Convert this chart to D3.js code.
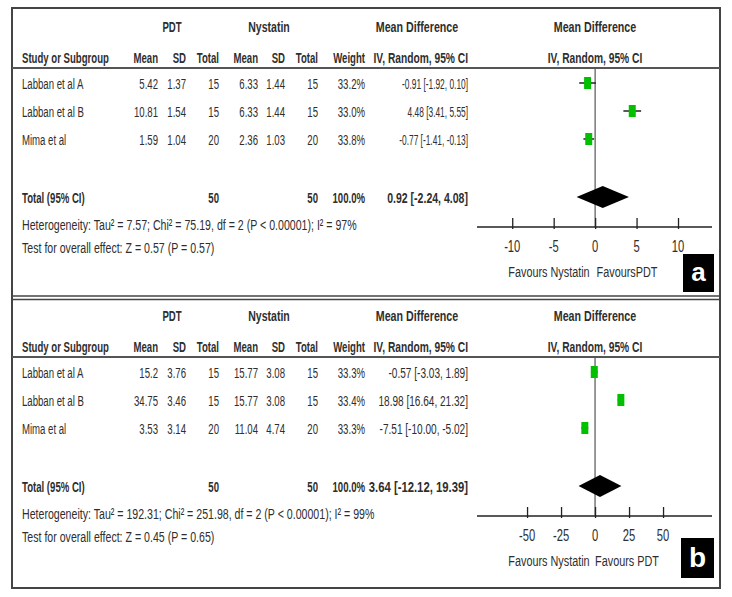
<!DOCTYPE html>
<html><head><meta charset="utf-8">
<script src="https://cdn.jsdelivr.net/npm/d3@7"></script>
<style>body{margin:0;background:#fff}svg{display:block}</style>
</head><body>
<svg id="c" width="732" height="597"></svg>
<script>
const studies = ["Labban et al A", "Labban et al B", "Mima et al"];
// panel a
const aPdtMean = [5.42, 10.81, 1.59];
const aPdtSD = [1.37, 1.54, 1.04];
const aPdtN = [15, 15, 20];
const aNysMean = [6.33, 6.33, 2.36];
const aNysSD = [1.44, 1.44, 1.03];
const aNysN = [15, 15, 20];
const aWeight = [33.2, 33.0, 33.8];
const aMD = [-0.91, 4.48, -0.77];
const aLo = [-1.92, 3.41, -1.41];
const aHi = [0.10, 5.55, -0.13];
const aTotal = [0.92, -2.24, 4.08];
const aTicks = [-10, -5, 0, 5, 10];
const aHet = "Heterogeneity: Tau² = 7.57; Chi² = 75.19, df = 2 (P < 0.00001); I² = 97%";
const aTest = "Test for overall effect: Z = 0.57 (P = 0.57)";
const aFav = ["Favours Nystatin", "FavoursPDT"];
// panel b
const bPdtMean = [15.2, 34.75, 3.53];
const bPdtSD = [3.76, 3.46, 3.14];
const bPdtN = [15, 15, 20];
const bNysMean = [15.77, 15.77, 11.04];
const bNysSD = [3.08, 3.08, 4.74];
const bNysN = [15, 15, 20];
const bWeight = [33.3, 33.4, 33.3];
const bMD = [-0.57, 18.98, -7.51];
const bLo = [-3.03, 16.64, -10.00];
const bHi = [1.89, 21.32, -5.02];
const bTotal = [3.64, -12.12, 19.39];
const bTicks = [-50, -25, 0, 25, 50];
const bHet = "Heterogeneity: Tau² = 192.31; Chi² = 251.98, df = 2 (P < 0.00001); I² = 99%";
const bTest = "Test for overall effect: Z = 0.45 (P = 0.65)";
const bFav = ["Favours Nystatin", "Favours PDT"];

const panels = [
  {label:"a", off:0, pm:aPdtMean, ps:aPdtSD, pn:aPdtN, nm:aNysMean, ns:aNysSD, nn:aNysN, w:aWeight,
   md:aMD, lo:aLo, hi:aHi, tot:aTotal, ticks:aTicks, het:aHet, test:aTest, fav:aFav, dom:[-14.25, 14.1],
   mdSx:0.54, totSx:0.68},
  {label:"b", off:289, pm:bPdtMean, ps:bPdtSD, pn:bPdtN, nm:bNysMean, ns:bNysSD, nn:bNysN, w:bWeight,
   md:bMD, lo:bLo, hi:bHi, tot:bTotal, ticks:bTicks, het:bHet, test:bTest, fav:bFav, dom:[-86.8, 86.0],
   mdSx:0.65, totSx:0.73}
];

const svg = d3.select("#c");
const FONT = "'Liberation Sans', Arial, sans-serif";
const SX = 0.62, FS = 15.5, TXT = "#2e2e2e";
function txt(g, s, x, y, anchor, bold, opts) {
  opts = opts || {};
  g.append("text")
    .attr("transform", `translate(${x},${y}) scale(${opts.sx || SX},1)`)
    .attr("text-anchor", anchor)
    .attr("dominant-baseline", "central")
    .attr("font-family", FONT)
    .attr("font-size", opts.fs || FS)
    .attr("font-weight", bold ? "bold" : "normal")
    .attr("fill", opts.fill || TXT)
    .text(s);
}
const loc = d3.formatLocale({decimal:".", thousands:",", grouping:[3], currency:["",""], minus:"-"});
const f2 = loc.format(".2f"), f1 = loc.format(".1f");
const col = {study:22, pm:158, ps:186, pn:219, nm:258, ns:285, nn:318, w:365, md:468};
const rowY = [84, 112, 140];

// frame
svg.append("rect").attr("x",12).attr("y",8).attr("width",708).attr("height",580)
  .attr("fill","none").attr("stroke","#444").attr("stroke-width",2);
svg.append("line").attr("x1",12).attr("x2",720).attr("y1",296).attr("y2",296).attr("stroke","#444").attr("stroke-width",1.5);
svg.append("line").attr("x1",12).attr("x2",720).attr("y1",299.5).attr("y2",299.5).attr("stroke","#444").attr("stroke-width",1.5);

panels.forEach(p => {
  const g = svg.append("g").attr("transform", `translate(0,${p.off})`);
  // headers
  txt(g, "PDT", 172, 27, "middle", true);
  txt(g, "Nystatin", 269, 27, "middle", true, {sx:0.68});
  txt(g, "Mean Difference", 417, 27, "middle", true, {sx:0.69});
  txt(g, "Mean Difference", 595, 27, "middle", true, {sx:0.69});
  txt(g, "Study or Subgroup", col.study, 58, "start", true);
  txt(g, "Mean", col.pm, 58, "end", true);
  txt(g, "SD", col.ps, 58, "end", true);
  txt(g, "Total", col.pn, 58, "end", true);
  txt(g, "Mean", col.nm, 58, "end", true);
  txt(g, "SD", col.ns, 58, "end", true);
  txt(g, "Total", col.nn, 58, "end", true);
  txt(g, "Weight", col.w, 58, "end", true);
  txt(g, "IV, Random, 95% CI", col.md, 58, "end", true, {sx:0.66});
  txt(g, "IV, Random, 95% CI", 595, 58, "middle", true, {sx:0.66});
  g.append("line").attr("x1",12).attr("x2",720).attr("y1",68).attr("y2",68)
    .attr("stroke","#555").attr("stroke-width",2);

  studies.forEach((s, i) => {
    const y = rowY[i];
    txt(g, s, col.study, y, "start", false);
    txt(g, String(p.pm[i]), col.pm, y, "end", false);
    txt(g, String(p.ps[i]), col.ps, y, "end", false);
    txt(g, String(p.pn[i]), col.pn, y, "end", false);
    txt(g, String(p.nm[i]), col.nm, y, "end", false);
    txt(g, String(p.ns[i]), col.ns, y, "end", false);
    txt(g, String(p.nn[i]), col.nn, y, "end", false);
    txt(g, f1(p.w[i]) + "%", col.w, y, "end", false);
    txt(g, `${f2(p.md[i])} [${f2(p.lo[i])}, ${f2(p.hi[i])}]`, col.md, y, "end", false, {sx:p.mdSx});
  });
  // total row
  const ty = 198;
  txt(g, "Total (95% CI)", col.study, ty, "start", true);
  txt(g, String(d3.sum(p.pn)), col.pn, ty, "end", true);
  txt(g, String(d3.sum(p.nn)), col.nn, ty, "end", true);
  txt(g, f1(d3.sum(p.w)) + "%", col.w, ty, "end", true);
  txt(g, `${f2(p.tot[0])} [${f2(p.tot[1])}, ${f2(p.tot[2])}]`, col.md, ty, "end", true, {sx:p.totSx});
  txt(g, p.het, col.study, 225, "start", false, {sx:0.685});
  txt(g, p.test, col.study, 248, "start", false, {sx:0.685});

  // forest plot
  const x = d3.scaleLinear().domain(p.dom).range([477, 712]);
  const axisY = 227;
  g.append("line").attr("x1", x(0)).attr("x2", x(0)).attr("y1", 68).attr("y2", axisY)
    .attr("stroke","#555").attr("stroke-width",1.2);
  const axisG = g.append("g").attr("transform", `translate(0,${axisY})`)
    .call(d3.axisTop(x).tickValues(p.ticks).tickSize(9).tickFormat(""));
  axisG.select(".domain").attr("d", `M477,0H712`).attr("stroke","#222").attr("stroke-width",1.5);
  axisG.selectAll(".tick line").attr("stroke","#222").attr("stroke-width",1.3).attr("y2",-9).attr("y1",2);
  p.ticks.forEach(t => txt(g, String(t), x(t), 246, "middle", false, {fs:16.5, sx:0.68}));
  txt(g, p.fav[0], 549, 272, "middle", false, {sx:0.70});
  txt(g, p.fav[1], 627, 272, "middle", false, {sx:0.70});

  // CI lines and squares
  studies.forEach((s, i) => {
    const y = rowY[i] - 1;
    g.append("line").attr("x1", x(p.lo[i])).attr("x2", x(p.hi[i])).attr("y1", y).attr("y2", y)
      .attr("stroke","#222").attr("stroke-width",1.5);
    g.append("rect").attr("x", x(p.md[i]) - 3.5).attr("y", y - 6).attr("width", 7).attr("height", 12)
      .attr("fill","#00c000");
  });
  // diamond
  const dy = 197, dh = 11;
  g.append("path")
    .attr("d", `M${x(p.tot[1])},${dy} L${x(p.tot[0])},${dy-dh} L${x(p.tot[2])},${dy} L${x(p.tot[0])},${dy+dh} Z`)
    .attr("fill","#000");
});

// label boxes
svg.append("rect").attr("x",683).attr("y",254).attr("width",31).attr("height",38).attr("fill","#000");
txt(svg, "a", 698.5, 272, "middle", true, {fs:26, sx:1, fill:"#fff"});
svg.append("rect").attr("x",681).attr("y",538).attr("width",33).attr("height",40).attr("fill","#000");
txt(svg, "b", 697.5, 557, "middle", true, {fs:28, sx:1, fill:"#fff"});
</script>
</body></html>
